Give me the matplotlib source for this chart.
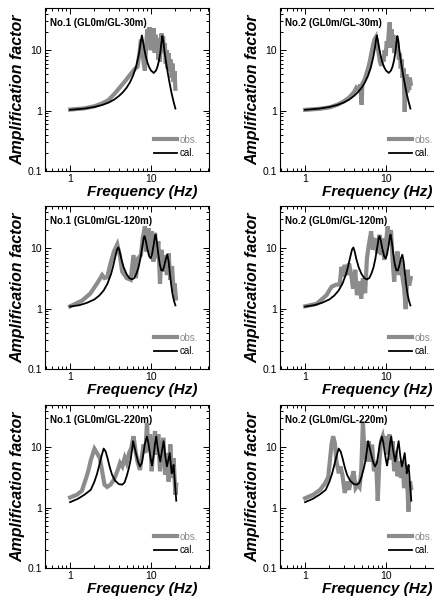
import matplotlib
matplotlib.use("Agg")
import matplotlib.pyplot as plt
from matplotlib import font_manager
from matplotlib.ticker import LogLocator, NullFormatter, FixedLocator, FixedFormatter

# ---------------- data ----------------
# calculated transfer functions (one per depth)
cal_30_f = [1.0, 1.5, 2.0, 2.5, 3.0, 3.5, 4.0, 4.5, 5.0, 5.5, 6.0, 6.5, 7.0, 7.3, 7.5, 7.7,
            7.9, 8.2, 8.6, 9.0, 9.5, 10.0, 10.8, 11.5, 12.0, 12.5, 13.0, 13.4, 13.8, 14.2,
            14.6, 15.2, 16.0, 17.0, 18.0, 19.0, 20.0]
cal_30_a = [1.03, 1.08, 1.15, 1.24, 1.36, 1.52, 1.74, 2.02, 2.4, 2.95, 3.8, 5.2, 8.0, 11.0,
            14.5, 17.5, 15.0, 11.0, 8.0, 6.3, 5.2, 4.6, 4.2, 4.6, 5.3, 6.6, 9.0, 13.0, 17.2,
            14.0, 10.0, 6.8, 4.4, 2.8, 1.9, 1.4, 1.08]

cal_120_f = [1.0, 1.3, 1.6, 2.0, 2.3, 2.6, 2.9, 3.2, 3.4, 3.6, 3.8, 3.95, 4.1, 4.3, 4.6, 5.0,
             5.4, 5.8, 6.2, 6.6, 7.0, 7.4, 7.8, 8.1, 8.3, 8.6, 9.0, 9.5, 9.9, 10.3, 10.8,
             11.2, 11.4, 11.8, 12.3, 12.8, 13.4, 14.0, 14.6, 15.3, 15.9, 16.5, 17.1, 17.8,
             18.5, 19.2, 20.0]
cal_120_a = [1.08, 1.14, 1.24, 1.42, 1.65, 2.0, 2.6, 3.7, 5.0, 7.0, 9.5, 10.3, 8.8, 6.6, 4.8,
             3.7, 3.2, 3.05, 3.2, 3.8, 4.8, 6.8, 10.5, 14.5, 15.8, 13.5, 9.8, 7.3, 6.8, 8.0,
             11.5, 16.0, 16.8, 12.5, 8.0, 5.5, 4.3, 4.3, 5.2, 6.8, 7.8, 6.0, 3.8, 2.4, 1.7,
             1.35, 1.13]

cal_220_f = [1.0, 1.25, 1.5, 1.8, 2.0, 2.15, 2.3, 2.45, 2.6, 2.75, 2.9, 3.1, 3.3, 3.6, 4.0,
             4.4, 4.7, 5.0, 5.3, 5.6, 5.85, 6.0, 6.2, 6.5, 6.9, 7.3, 7.7, 8.0, 8.4, 8.9,
             9.3, 9.6, 10.0, 10.3, 10.8, 11.2, 11.6, 12.0, 12.5, 13.0, 13.6, 14.3, 15.0,
             15.7, 16.3, 17.0, 17.5, 18.0, 18.5, 19.0, 19.7, 20.5]
cal_220_a = [1.23, 1.4, 1.63, 1.97, 2.7, 3.6, 5.1, 7.2, 9.5, 8.5, 6.6, 4.6, 3.5, 2.8, 2.45,
             2.4, 2.6, 3.3, 4.4, 6.2, 9.5, 12.6, 10.5, 8.0, 5.8, 4.8, 5.5, 7.5, 11.5, 15.0,
             11.5, 8.5, 6.0, 5.0, 7.5, 11.5, 15.0, 10.5, 7.5, 5.8, 8.5, 12.6, 7.1, 4.8, 6.0,
             8.0, 5.5, 3.7, 4.2, 5.1, 2.6, 1.3]

# observed spectral ratios
obs1_f = [1.0, 1.5, 2.0, 2.5, 3.0, 3.6, 4.2, 4.9, 5.4, 5.9, 6.4, 6.8, 7.2, 7.5, 7.8, 8.1,
          8.4, 8.7, 9.0, 9.3, 9.6, 9.9, 10.2, 10.5, 10.8, 11.1, 11.4, 11.7, 12.0, 12.3,
          12.6, 12.9, 13.2, 13.5, 13.8, 14.1, 14.4, 14.8, 15.2, 15.6, 16.0, 16.5, 17.0,
          17.5, 18.0, 18.5, 19.0, 19.5, 20.0]
obs1_a = [1.04, 1.09, 1.18, 1.32, 1.5, 1.95, 2.5, 3.2, 3.8, 4.4, 5.0, 5.3, 9.0, 15.0, 11.0,
          6.0, 4.6, 12.0, 22.0, 14.0, 24.0, 10.0, 20.0, 12.0, 23.0, 9.0, 18.0, 11.0, 16.0,
          7.0, 10.0, 6.5, 15.0, 19.0, 12.0, 17.0, 9.0, 13.0, 6.0, 10.0, 5.0, 9.0, 4.5, 7.0,
          3.5, 6.0, 3.0, 4.5, 2.3]

obs2_f = [1.0, 1.5, 2.0, 2.5, 3.0, 3.5, 4.0, 4.3, 4.6, 4.8, 5.0, 5.1, 5.4, 5.7, 6.0, 6.3,
          6.6, 6.9, 7.2, 7.5, 7.8, 8.1, 8.4, 8.7, 9.0, 9.3, 9.6, 9.9, 10.2, 10.5, 10.8,
          11.1, 11.4, 11.7, 12.0, 12.3, 12.6, 12.9, 13.2, 13.6, 14.0, 14.4, 14.8, 15.2,
          15.6, 16.0, 16.5, 17.0, 17.4, 17.8, 18.3, 18.8, 19.3, 19.7, 20.2]
obs2_a = [1.03, 1.07, 1.13, 1.25, 1.42, 1.65, 2.0, 2.4, 2.2, 2.7, 1.25, 2.8, 3.2, 4.0, 5.0,
          6.5, 9.0, 12.0, 15.0, 16.5, 12.0, 9.0, 6.5, 5.5, 8.0, 6.5, 10.0, 8.0, 14.0, 11.0,
          20.0, 29.0, 14.0, 22.0, 11.0, 18.0, 9.0, 14.0, 10.0, 16.0, 11.0, 7.0, 9.0, 5.0,
          7.0, 3.5, 5.0, 0.95, 2.5, 4.0, 2.0, 3.5, 2.2, 3.5, 2.8]

obs3_f = [1.0, 1.4, 1.78, 2.15, 2.49, 2.66, 2.87, 3.16, 3.48, 3.83, 4.14, 4.4, 5.0, 5.6,
          6.07, 6.5, 6.9, 7.5, 7.9, 8.4, 8.8, 9.3, 9.7, 10.2, 10.7, 11.2, 11.8, 12.3, 12.9,
          13.5, 14.2, 14.9, 15.7, 16.5, 17.3, 18.2, 19.0, 19.6, 20.3]
obs3_a = [1.09, 1.35, 1.78, 2.6, 3.6, 3.2, 3.3, 5.6, 8.8, 11.6, 7.3, 4.1, 3.2, 3.0, 7.7,
          3.2, 6.8, 7.7, 14.7, 23.0, 8.8, 21.5, 7.7, 19.0, 6.0, 18.0, 6.8, 13.0, 2.6, 9.4,
          4.1, 7.7, 3.6, 8.2, 3.0, 5.0, 1.9, 2.6, 1.47]

obs4_f = [1.0, 1.39, 1.84, 2.12, 2.44, 2.68, 2.81, 2.95, 3.09, 3.30, 3.49, 3.72, 3.91, 4.17,
          4.37, 4.63, 4.94, 5.18, 5.52, 5.81, 6.13, 6.55, 6.87, 7.34, 7.77, 8.3, 8.7, 9.1,
          9.5, 10.0, 10.5, 11.0, 11.5, 12.1, 12.6, 13.2, 13.9, 14.5, 15.3, 16.0, 16.7,
          17.5, 18.4, 19.3, 20.2]
obs4_a = [1.09, 1.2, 1.67, 2.3, 2.5, 2.5, 4.9, 3.4, 5.3, 3.6, 5.6, 3.6, 2.15, 4.4, 1.67, 2.8,
          1.47, 3.2, 1.8, 6.8, 11.4, 19.0, 9.4, 14.7, 8.2, 16.7, 7.7, 14.7, 6.4, 13.0, 23.0,
          11.4, 20.0, 6.0, 2.8, 6.0, 8.8, 3.6, 6.4, 3.2, 2.2, 0.98, 4.4, 2.4, 3.2]

obs5_f = [1.0, 1.21, 1.40, 1.58, 1.69, 1.81, 2.0, 2.15, 2.33, 2.49, 2.66, 2.87, 3.16, 3.48,
          3.83, 4.14, 4.42, 4.73, 5.0, 5.35, 5.7, 6.07, 6.5, 6.8, 7.3, 7.6, 8.1, 8.5, 8.9,
          9.3, 9.7, 10.2, 10.7, 11.2, 11.8, 12.3, 12.9, 13.5, 14.2, 14.9, 15.7, 16.5, 17.3,
          18.2, 19.0, 20.0, 20.5]
obs5_a = [1.47, 1.63, 1.9, 3.1, 4.2, 6.2, 9.4, 8.0, 6.6, 4.0, 2.4, 2.2, 2.4, 2.9, 4.0, 5.5,
          4.8, 6.7, 5.5, 8.0, 9.7, 15.2, 8.0, 5.8, 4.2, 6.2, 11.1, 8.0, 25.0, 8.6, 16.3, 4.0,
          11.1, 18.5, 7.5, 16.3, 4.0, 9.7, 14.3, 3.5, 8.0, 2.7, 11.1, 3.1, 6.6, 1.63, 2.4]

obs6_f = [1.0, 1.26, 1.53, 1.76, 1.93, 2.02, 2.12, 2.22, 2.33, 2.44, 2.61, 2.73, 2.89, 3.09,
          3.30, 3.49, 3.72, 3.98, 4.21, 4.5, 4.71, 4.94, 5.18, 5.43, 5.81, 6.08, 6.37, 6.73,
          7.1, 7.54, 7.9, 8.27, 8.68, 9.1, 9.5, 10.0, 10.5, 11.0, 11.5, 12.1, 12.6, 13.2,
          13.9, 14.5, 15.3, 16.0, 16.7, 17.5, 18.4, 18.9, 19.8, 20.4]
obs6_a = [1.43, 1.63, 1.97, 2.5, 3.2, 5.8, 11.1, 15.2, 11.8, 5.8, 3.7, 4.8, 3.5, 1.75, 2.7,
          1.97, 2.9, 4.0, 2.1, 2.4, 2.2, 4.0, 27.0, 7.5, 5.8, 12.6, 5.8, 11.0, 4.0, 5.8, 1.3,
          5.8, 12.6, 15.2, 11.1, 15.2, 7.5, 16.3, 6.2, 12.6, 4.0, 8.6, 3.3, 5.8, 3.1, 5.8,
          2.1, 4.0, 2.2, 0.86, 2.7, 2.1]

titles = ["No.1 (GL0m/GL-30m)", "No.2 (GL0m/GL-30m)",
          "No.1 (GL0m/GL-120m)", "No.2 (GL0m/GL-120m)",
          "No.1 (GL0m/GL-220m)", "No.2 (GL0m/GL-220m)"]
x_ticks = [1, 10]
x_ticklabels = ["1", "10"]
y_ticks = [0.1, 1, 10]
y_ticklabels = ["0.1", "1", "10"]
legend_labels = ["obs.", "cal."]
xlabel = "Frequency (Hz)"
ylabel = "Amplification factor"

panels = [
    (obs1_f, obs1_a, cal_30_f, cal_30_a),
    (obs2_f, obs2_a, cal_30_f, cal_30_a),
    (obs3_f, obs3_a, cal_120_f, cal_120_a),
    (obs4_f, obs4_a, cal_120_f, cal_120_a),
    (obs5_f, obs5_a, cal_220_f, cal_220_a),
    (obs6_f, obs6_a, cal_220_f, cal_220_a),
]

# ---------------- fonts ----------------
names = {f.name for f in font_manager.fontManager.ttflist}
narrow = "Liberation Sans Narrow" if "Liberation Sans Narrow" in names else "Liberation Sans"
base = "Liberation Sans"
plt.rcParams["font.family"] = [base, "DejaVu Sans"]

# ---------------- figure ----------------
W, H = 434, 598
fig = plt.figure(figsize=(W / 100, H / 100), dpi=100)
fig.patch.set_facecolor("white")

col_left = [45, 280]
row_top = [8, 206, 405]
ax_w, ax_h = 164, 163

for i, (of, oa, cf, ca) in enumerate(panels):
    r, c = divmod(i, 2)
    left = col_left[c] / W
    bottom = 1 - (row_top[r] + ax_h) / H
    ax = fig.add_axes([left, bottom, ax_w / W, ax_h / H])
    ax.set_xscale("log")
    ax.set_yscale("log")
    ax.set_xlim(0.49, 52)
    ax.set_ylim(0.1, 50)

    ax.plot(of, oa, color="#8c8c8c", lw=3.0, solid_joinstyle="miter", label=legend_labels[0])
    ax.plot(cf, ca, color="black", lw=1.3, label=legend_labels[1])

    ax.xaxis.set_major_locator(FixedLocator(x_ticks))
    ax.xaxis.set_major_formatter(FixedFormatter(x_ticklabels))
    ax.yaxis.set_major_locator(FixedLocator(y_ticks))
    ax.yaxis.set_major_formatter(FixedFormatter(y_ticklabels))
    ax.xaxis.set_minor_locator(LogLocator(base=10, subs=range(2, 10)))
    ax.yaxis.set_minor_locator(LogLocator(base=10, subs=range(2, 10)))
    ax.xaxis.set_minor_formatter(NullFormatter())
    ax.yaxis.set_minor_formatter(NullFormatter())
    ax.tick_params(which="both", direction="in", top=True, right=True, width=0.7,
                   labelsize=7.5, pad=2)
    ax.tick_params(which="major", length=4)
    ax.tick_params(which="minor", length=2)
    for s in ax.spines.values():
        s.set_linewidth(0.8)

    ax.text(0.03, 0.905, titles[i], transform=ax.transAxes, ha="left", va="center",
            fontsize=7, fontweight="bold", family=narrow)
    ax.text(0.59, -0.128, xlabel, transform=ax.transAxes, ha="center", va="center",
            fontsize=11, fontweight="bold", style="italic")
    ax.text(-0.165, 0.5, ylabel, transform=ax.transAxes, ha="center", va="center",
            rotation=90, fontsize=11.5, fontweight="bold", style="italic")

    leg = ax.legend(loc="center left", bbox_to_anchor=(0.665, 0.15), frameon=False,
                    borderpad=0, borderaxespad=0, handlelength=2.4, handletextpad=0.2,
                    labelspacing=0.35, prop={"family": narrow, "size": 7})
    leg.get_texts()[0].set_color("#8c8c8c")

fig.savefig("out.png", dpi=100, facecolor="white")
